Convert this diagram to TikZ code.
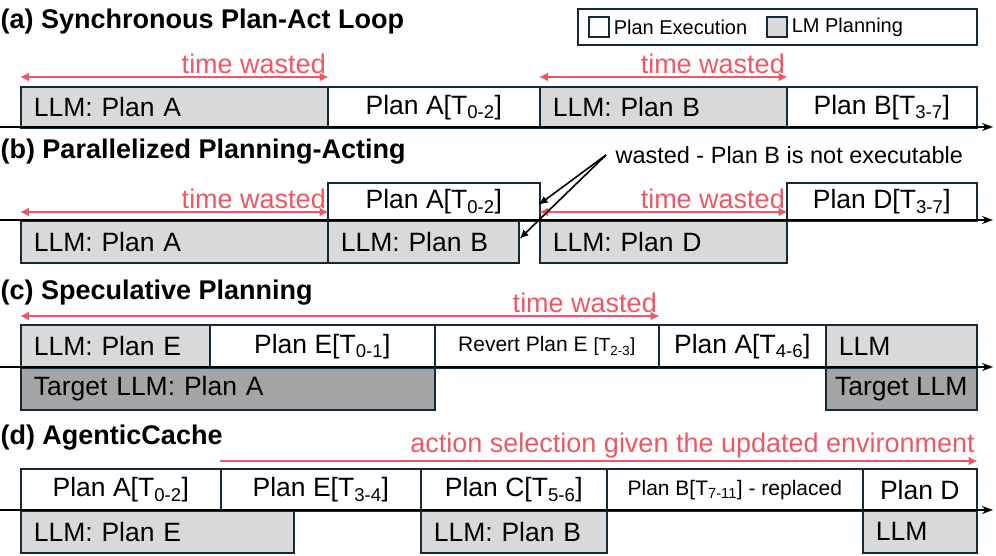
\documentclass[tikz,border=0pt]{standalone}
\usepackage{fontspec}
\setmainfont{Liberation Sans}
\usetikzlibrary{calc,arrows.meta}
\definecolor{edge}{RGB}{22,42,56}
\definecolor{llmgray}{RGB}{217,217,217}
\definecolor{tgtgray}{RGB}{165,165,165}
\definecolor{waste}{RGB}{238,88,100}
\tikzset{
  pbox/.style={draw=edge, line width=1.6pt, anchor=north west, inner sep=0pt, font=\fontsize{26.5}{26.5}\selectfont},
  exec/.style={pbox, fill=white, align=center},
  plan/.style={pbox, fill=llmgray},
  tgt/.style={pbox, fill=tgtgray},
  title/.style={anchor=west, font=\bfseries\fontsize{27}{27}\selectfont},
  wastearrow/.style={draw=waste, line width=1.6pt, {Latex[length=9pt,width=9pt]}-{Latex[length=9pt,width=9pt]}},
  wastetext/.style={text=waste, font=\fontsize{27}{27}\selectfont},
  axis/.style={line width=1.6pt, -{Stealth[length=11pt,width=8pt]}}
}
% box: name, style, x, y, width, height, text
\newcommand{\pbx}[7]{\node[#2, minimum width=#5pt, minimum height=#6pt] (#1) at (#3,#4) {#7};}
% left aligned box
\newcommand{\lbx}[7]{\node[#2, minimum width=#5pt, minimum height=#6pt, text width=#5pt-26pt, align=left, inner xsep=13pt] (#1) at (#3,#4) {#7};}
\newcommand{\Ts}[1]{[T\textsubscript{#1}]}
\begin{document}
\begin{tikzpicture}[x=1pt, y=-1pt]
\useasboundingbox (0,0) rectangle (996,556);
% legend
\node[draw=edge, line width=1.6pt, anchor=north west, minimum width=399pt, minimum height=36pt] (legend) at (577,8) {};
\node[draw=edge, line width=1.6pt, fill=white, minimum size=20pt, anchor=west] (lexec) at (588,27) {};
\node[anchor=west, font=\fontsize{20}{20}\selectfont, inner sep=4pt] (lexect) at (lexec.east) {Plan Execution};
\node[draw=edge, line width=1.6pt, fill=llmgray, minimum size=20pt, anchor=west] (lplan) at (766,27) {};
\node[anchor=west, font=\fontsize{20}{20}\selectfont, inner sep=4pt] (lplant) at (lplan.east) {LM Planning};

% (a)
\node[title] (ta) at (-3,22) {(a) Synchronous Plan-Act Loop};
\lbx{a1}{plan}{20}{86}{307}{41}{LLM: Plan A}
\pbx{a2}{exec}{327}{86}{212}{41}{Plan A\Ts{0-2}}
\lbx{a3}{plan}{539}{86}{247}{41}{LLM: Plan B}
\pbx{a4}{exec}{786}{86}{190}{41}{Plan B\Ts{3-7}}
\coordinate (a0) at (0,127); \coordinate (aend) at (993,127);
\draw[axis] (a0) -- (aend);
\draw[wastearrow] ($(a1.north west)+(0,-9)$) -- ($(a1.north east)+(0,-9)$) node[wastetext, above left, inner sep=2pt, pos=1] {time wasted};
\draw[wastearrow] ($(a3.north west)+(0,-9)$) -- ($(a3.north east)+(0,-9)$) node[wastetext, above left, inner sep=2pt, pos=1] {time wasted};

% (b)
\node[title] (tb) at (-3,152) {(b) Parallelized Planning-Acting};
\pbx{b1}{exec}{327}{182}{212}{38}{Plan A\Ts{0-2}}
\pbx{b2}{exec}{786}{182}{190}{38}{Plan D\Ts{3-7}}
\lbx{b3}{plan}{20}{220}{307}{42}{LLM: Plan A}
\lbx{b4}{plan}{327}{220}{191}{42}{LLM: Plan B}
\lbx{b5}{plan}{539}{220}{247}{42}{LLM: Plan D}
\coordinate (b0) at (0,220); \coordinate (bend) at (993,220);
\draw[axis] (b0) -- (bend);
\draw[wastearrow] ($(b3.north west)+(0,-8)$) -- ($(b3.north east)+(0,-8)$) node[wastetext, above left, inner sep=2pt, pos=1] {time wasted};
\draw[wastearrow] ($(b5.north west)+(0,-8)$) -- ($(b5.north east)+(0,-8)$) node[wastetext, above left, inner sep=2pt, pos=1] {time wasted};
\node[font=\fontsize{23.5}{23.5}\selectfont, anchor=west] (note) at (612,155) {wasted - Plan B is not executable};
\coordinate (nsrc) at (606,155);
\draw[line width=1.6pt, -{Latex[length=9pt,width=8pt]}] (nsrc) -- ($(b1.east)+(-2,3)$);
\draw[line width=1.6pt, -{Latex[length=9pt,width=8pt]}] (nsrc) -- ($(b4.east)+(0,-3)$);

% (c)
\node[title] (tc) at (-3,293) {(c) Speculative Planning};
\lbx{c1}{plan}{20}{324}{189}{43}{LLM: Plan E}
\pbx{c2}{exec}{209}{324}{225}{43}{Plan E\Ts{0-1}}
\pbx{c3}{exec, font=\fontsize{21}{21}\selectfont}{434}{324}{224}{43}{Revert Plan E {\fontsize{19}{19}\selectfont[T\textsubscript{2-3}]}}
\pbx{c4}{exec}{658}{324}{167}{43}{Plan A\Ts{4-6}}
\lbx{c5}{plan}{825}{324}{151}{43}{LLM}
\lbx{c6}{tgt}{20}{367}{414}{42}{Target LLM: Plan A}
\pbx{c7}{tgt, align=center}{825}{367}{151}{42}{Target LLM}
\coordinate (c0) at (0,367); \coordinate (cend) at (993,367);
\draw[axis] (c0) -- (cend);
\draw[wastearrow] ($(c1.north west)+(0,-8)$) -- ($(c3.north east)+(0,-8)$) node[wastetext, above left, inner sep=2pt, pos=1] {time wasted};

% (d)
\node[title] (td) at (-3,438) {(d) AgenticCache};
\pbx{d1}{exec}{20}{468}{200}{42}{Plan A\Ts{0-2}}
\pbx{d2}{exec}{220}{468}{200}{42}{Plan E\Ts{3-4}}
\pbx{d3}{exec}{420}{468}{186}{42}{Plan C\Ts{5-6}}
\pbx{d4}{exec, font=\fontsize{21}{21}\selectfont}{606}{468}{256}{42}{Plan B[T\textsubscript{7-11}] - replaced}
\pbx{d5}{exec}{862}{468}{114}{42}{Plan D}
\lbx{d6}{plan}{20}{510}{273}{42}{LLM: Plan E}
\lbx{d7}{plan}{420}{510}{186}{42}{LLM: Plan B}
\lbx{d8}{plan}{862}{510}{114}{42}{LLM}
\coordinate (d0) at (0,510); \coordinate (dend) at (993,510);
\draw[axis] (d0) -- (dend);
\draw[draw=waste, line width=1.6pt, -{Latex[length=9pt,width=9pt]}] ($(d2.north west)+(0,-7)$) -- ($(d5.north east)+(0,-7)$) node[wastetext, above left, inner sep=2pt, pos=1] {action selection given the updated environment};
\end{tikzpicture}
\end{document}
